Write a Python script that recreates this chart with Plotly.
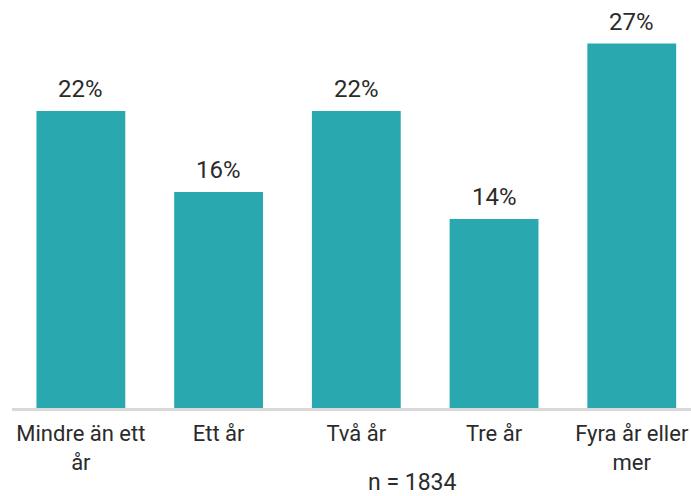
import plotly.graph_objects as go

categories = ["Mindre än ett<br>år", "Ett år", "Två år", "Tre år", "Fyra år eller<br>mer"]
values = [22, 16, 22, 14, 27]
labels = ["22%", "16%", "22%", "14%", "27%"]
n_label = "n = 1834"

xs = list(range(len(categories)))
fig = go.Figure(go.Bar(
    x=xs, y=values,
    marker=dict(color="#2AA8B0", line=dict(width=0)),
    cliponaxis=False, hoverinfo="skip",
))
for x, v, t in zip(xs, values, labels):
    fig.add_annotation(x=x, y=v, text=t, showarrow=False, yanchor="bottom",
                       yshift=6, font=dict(size=24, color="#2b2b2b"))
fig.add_annotation(xref="paper", yref="paper", x=0.59, y=0, text=n_label,
                   showarrow=False, yanchor="middle", yshift=-74,
                   font=dict(size=23, color="#2b2b2b"))
fig.update_layout(
    width=691, height=496,
    margin=dict(l=12, r=0, t=8, b=88),
    paper_bgcolor="white", plot_bgcolor="white",
    bargap=0.355,
    font=dict(family="Roboto, Liberation Sans, Arial, sans-serif", color="#2b2b2b"),
    showlegend=False,
)
fig.update_xaxes(
    tickmode="array", tickvals=xs, ticktext=categories,
    range=[-0.5, 4.43], showline=True, linecolor="#d9d9d9", linewidth=3,
    ticks="", showgrid=False, zeroline=False, tickfont=dict(size=22),
    ticklabelstandoff=4, automargin=False,
)
fig.update_yaxes(range=[0, 29.63], visible=False, showgrid=False, zeroline=False)
fig.write_html("out.html", config={"displayModeBar": False},
               post_script="document.body.style.margin='0';document.body.style.overflow='hidden';")
